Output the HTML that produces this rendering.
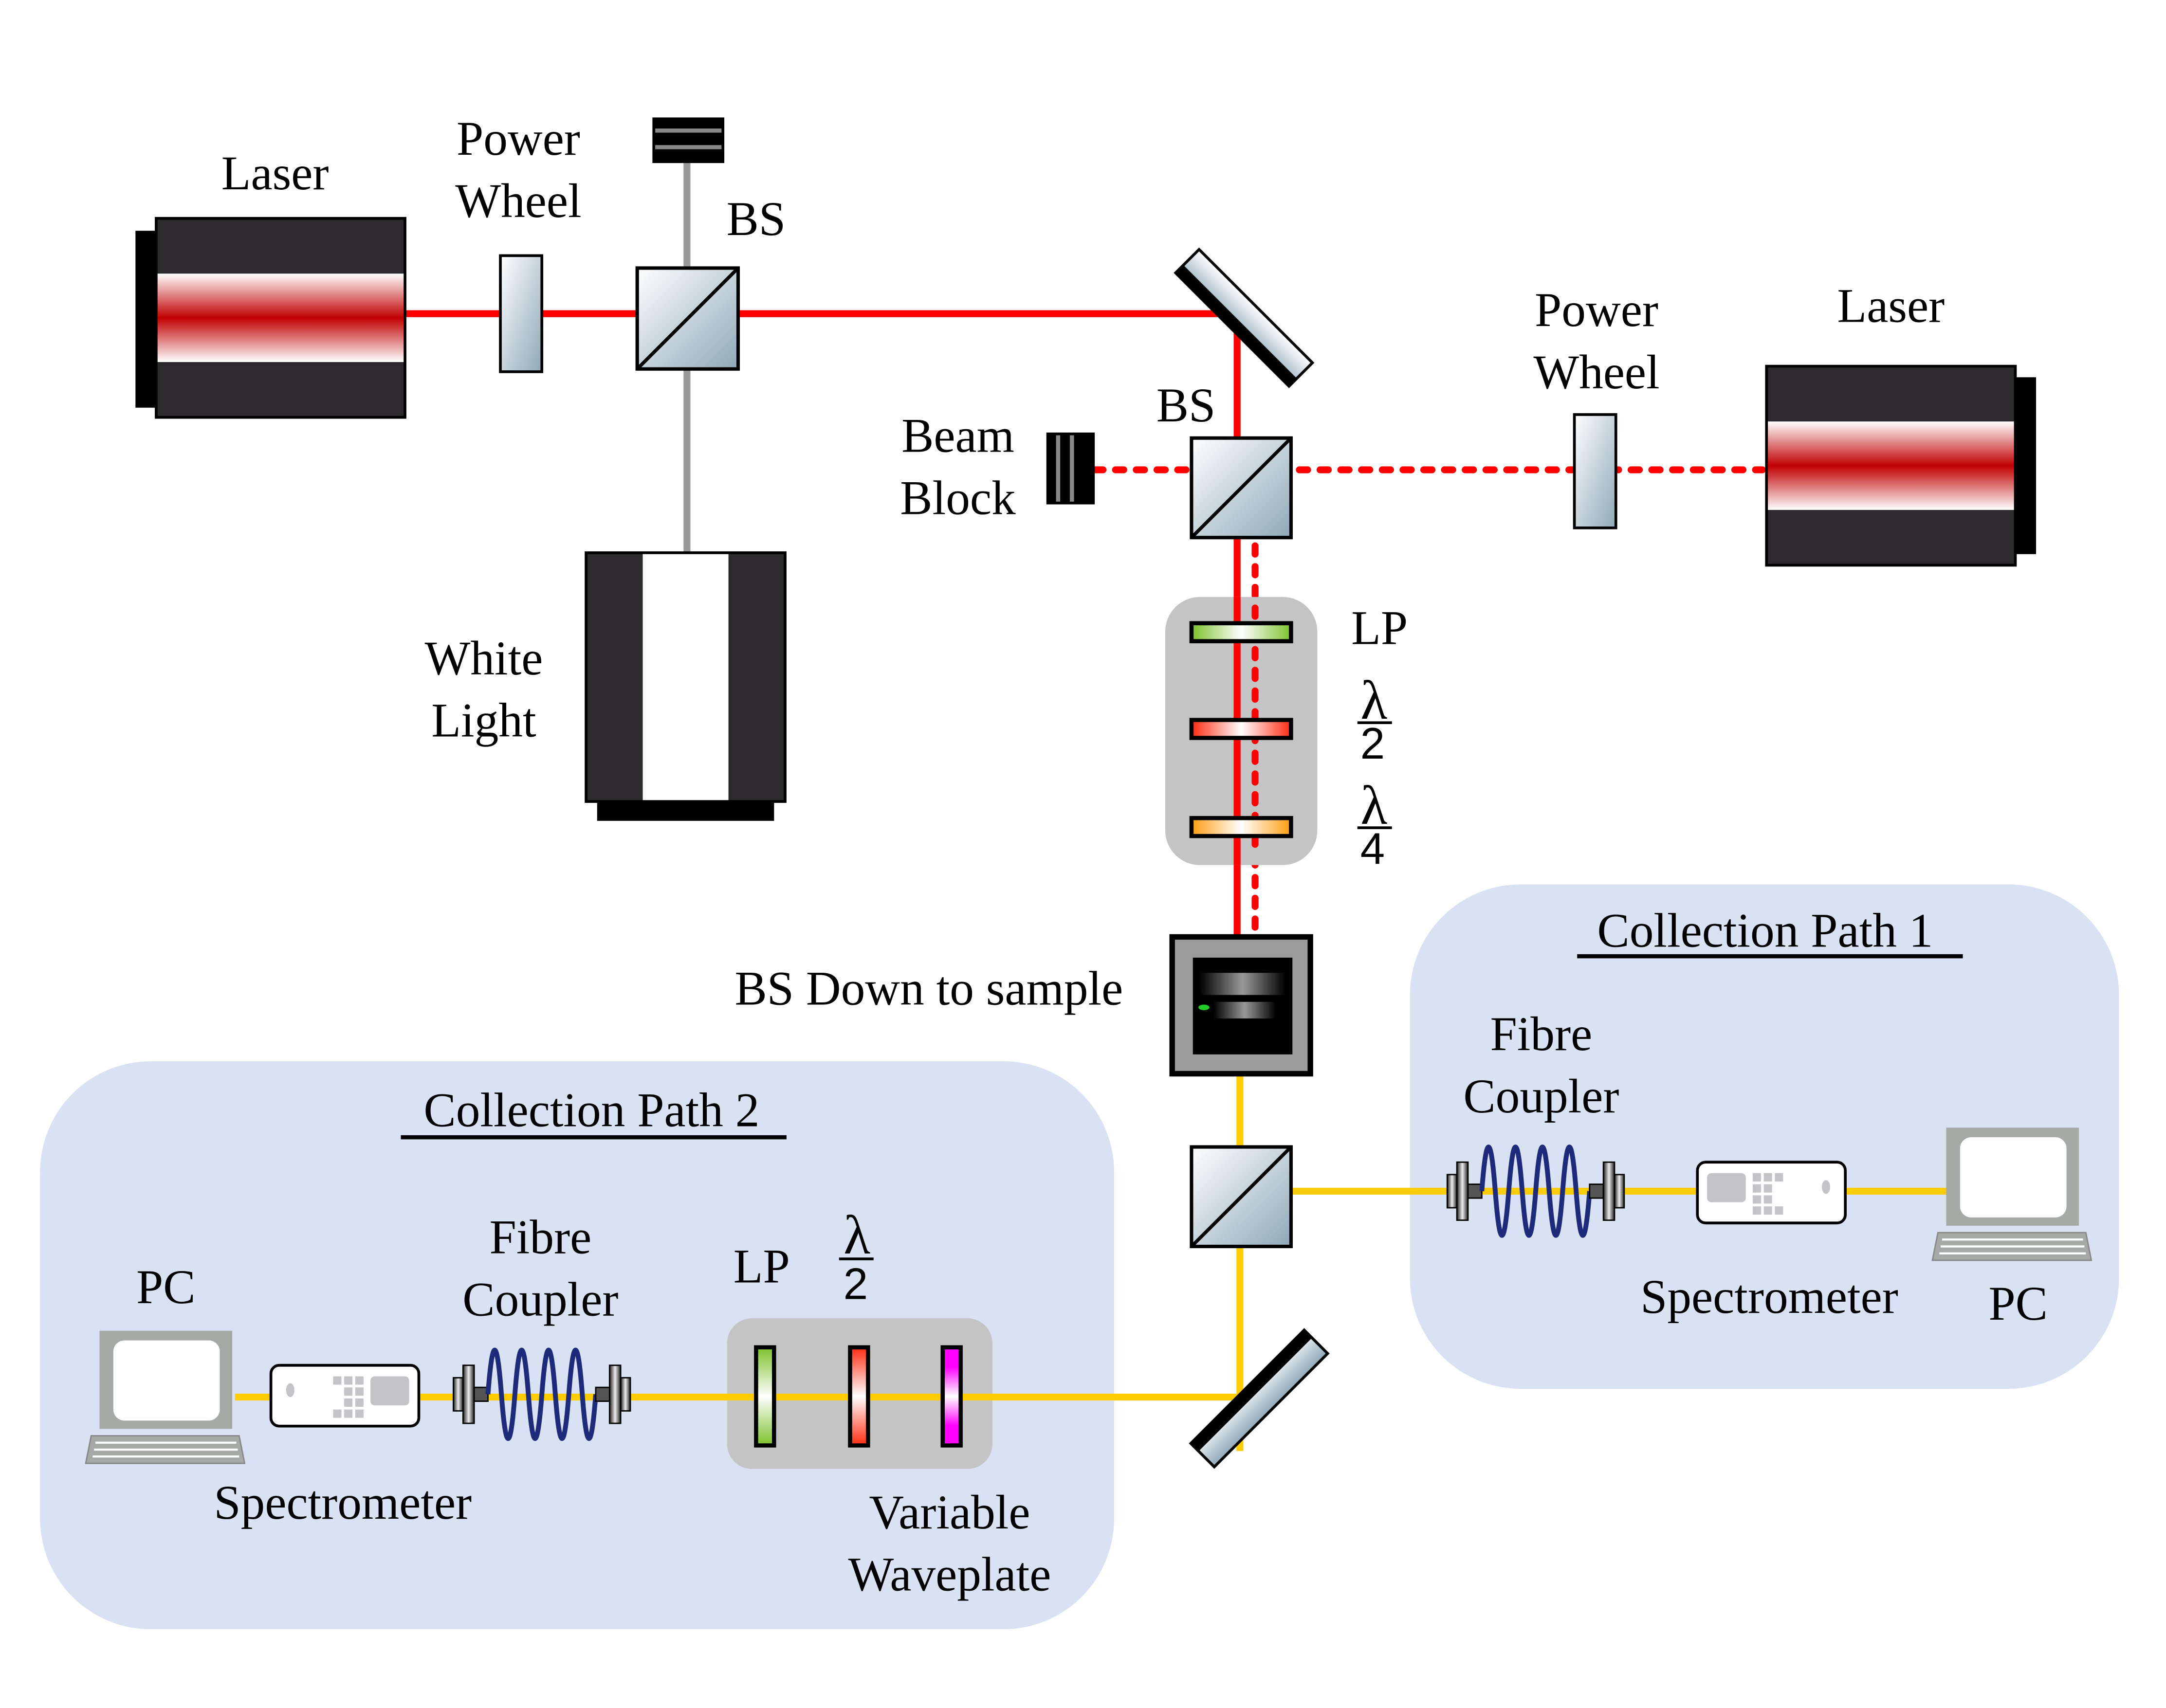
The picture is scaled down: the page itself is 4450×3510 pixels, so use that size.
<!DOCTYPE html>
<html><head><meta charset="utf-8"><style>html,body{margin:0;padding:0;background:#fff;overflow:hidden;width:4450px;height:3510px}svg{display:block}text{font-family:"Liberation Serif",serif;font-size:35px;fill:#000}</style></head>
<body>
<svg width="4450" height="3510" viewBox="0 0 1567 1236" preserveAspectRatio="none" xmlns="http://www.w3.org/2000/svg">
<defs>
<linearGradient id="laserV" x1="0" y1="0" x2="0" y2="1"><stop offset="0" stop-color="#fff"/><stop offset="0.5" stop-color="#c00000"/><stop offset="1" stop-color="#fff"/></linearGradient>
<linearGradient id="pw" x1="0" y1="0" x2="1" y2="1"><stop offset="0" stop-color="#fff"/><stop offset="1" stop-color="#8fa8b8"/></linearGradient>
<linearGradient id="grnH" x1="0" x2="1"><stop offset="0" stop-color="#7dc12b"/><stop offset="0.5" stop-color="#fff"/><stop offset="1" stop-color="#7dc12b"/></linearGradient>
<linearGradient id="redH" x1="0" x2="1"><stop offset="0" stop-color="#ff2a10"/><stop offset="0.5" stop-color="#fff"/><stop offset="1" stop-color="#ff2a10"/></linearGradient>
<linearGradient id="orH" x1="0" x2="1"><stop offset="0" stop-color="#ff9d10"/><stop offset="0.5" stop-color="#fff"/><stop offset="1" stop-color="#ff9d10"/></linearGradient>
<linearGradient id="grnV" x1="0" y1="0" x2="0" y2="1"><stop offset="0" stop-color="#7dc12b"/><stop offset="0.5" stop-color="#fff"/><stop offset="1" stop-color="#7dc12b"/></linearGradient>
<linearGradient id="redV" x1="0" y1="0" x2="0" y2="1"><stop offset="0" stop-color="#ff2a10"/><stop offset="0.5" stop-color="#fff"/><stop offset="1" stop-color="#ff2a10"/></linearGradient>
<linearGradient id="magV" x1="0" y1="0" x2="0" y2="1"><stop offset="0" stop-color="#f0f"/><stop offset="0.2" stop-color="#f0f"/><stop offset="0.5" stop-color="#fff"/><stop offset="0.8" stop-color="#f0f"/><stop offset="1" stop-color="#f0f"/></linearGradient>
<linearGradient id="shine" x1="0" x2="1"><stop offset="0" stop-color="#000"/><stop offset="0.5" stop-color="#999"/><stop offset="1" stop-color="#000"/></linearGradient>
<linearGradient id="mir" x1="0" y1="0" x2="0" y2="1"><stop offset="0" stop-color="#fff"/><stop offset="1" stop-color="#8fa8b8"/></linearGradient>
<linearGradient id="cyl" x1="0" x2="1"><stop offset="0" stop-color="#222"/><stop offset="0.5" stop-color="#eee"/><stop offset="1" stop-color="#222"/></linearGradient>
</defs>

<rect x="1020" y="640" width="513" height="365" rx="80" fill="#d8e2f3"/>
<rect x="29" y="768" width="777" height="411" rx="80" fill="#d8e2f3"/>

<line x1="293" y1="227" x2="895" y2="227" stroke="#f00" stroke-width="5"/>
<line x1="895" y1="227" x2="895" y2="680" stroke="#f00" stroke-width="5"/>
<line x1="497" y1="110" x2="497" y2="400" stroke="#999" stroke-width="5"/>
<line x1="792" y1="340" x2="862" y2="340" stroke="#f00" stroke-width="5" stroke-dasharray="6 9" stroke-linecap="round"/>
<line x1="940" y1="340" x2="1275" y2="340" stroke="#f00" stroke-width="5" stroke-dasharray="6 9" stroke-linecap="round"/>
<line x1="908" y1="395" x2="908" y2="675" stroke="#f00" stroke-width="5" stroke-dasharray="6 9" stroke-linecap="round"/>
<line x1="897" y1="777" x2="897" y2="1050" stroke="#fc0" stroke-width="5"/>
<line x1="934" y1="862" x2="1410" y2="862" stroke="#fc0" stroke-width="5"/>
<line x1="170" y1="1011" x2="905" y2="1011" stroke="#fc0" stroke-width="5"/>

<rect x="98" y="167" width="16" height="128" fill="#000"/>
<rect x="113" y="158" width="180" height="144" fill="#2d2a2e" stroke="#000" stroke-width="2"/>
<rect x="114" y="198" width="178" height="64" fill="url(#laserV)"/>
<rect x="1457" y="273" width="16" height="128" fill="#000"/>
<rect x="1278" y="265" width="180" height="144" fill="#2d2a2e" stroke="#000" stroke-width="2"/>
<rect x="1279" y="305" width="178" height="64" fill="url(#laserV)"/>

<rect x="362" y="185" width="30" height="84" fill="url(#pw)" stroke="#000" stroke-width="2"/>
<rect x="1139" y="300" width="30" height="82" fill="url(#pw)" stroke="#000" stroke-width="2"/>

<g stroke="#000" stroke-width="2.5">
<rect x="461" y="194" width="73" height="73" fill="url(#pw)"/><line x1="461" y1="267" x2="534" y2="194"/>
<rect x="862" y="317" width="72" height="72" fill="url(#pw)"/><line x1="862" y1="389" x2="934" y2="317"/>
<rect x="862" y="830" width="72" height="72" fill="url(#pw)"/><line x1="862" y1="902" x2="934" y2="830"/>
</g>

<rect x="472" y="85" width="52" height="33" fill="#000"/>
<rect x="474" y="93" width="48" height="3" fill="#888"/><rect x="474" y="105" width="48" height="3" fill="#888"/>
<rect x="757" y="313" width="35" height="52" fill="#000"/>
<rect x="764" y="315" width="3" height="48" fill="#888"/><rect x="774" y="315" width="3" height="48" fill="#888"/>

<rect x="424" y="400" width="144" height="180" fill="#2d2a2e" stroke="#000" stroke-width="2"/>
<rect x="465" y="401" width="62" height="178" fill="#fff"/>
<rect x="432" y="580" width="128" height="14" fill="#000"/>

<g transform="translate(900,230) rotate(45)"><rect x="-58" y="-12" width="116" height="24" fill="url(#mir)" stroke="#000" stroke-width="2"/><rect x="-58" y="4" width="116" height="8" fill="#000"/></g>
<g transform="translate(911,1012) rotate(-45)"><rect x="-58" y="-12" width="116" height="24" fill="url(#mir)" stroke="#000" stroke-width="2"/><rect x="-58" y="-12" width="116" height="8" fill="#000"/></g>

<rect x="843" y="432" width="110" height="194" rx="25" fill="#c4c4c4"/>
<line x1="895" y1="432" x2="895" y2="626" stroke="#f00" stroke-width="5"/>
<line x1="908" y1="440" x2="908" y2="620" stroke="#f00" stroke-width="5" stroke-dasharray="6 9" stroke-linecap="round"/>
<g stroke="#000" stroke-width="3">
<rect x="862" y="451" width="72" height="13" fill="url(#grnH)"/>
<rect x="862" y="521" width="72" height="13" fill="url(#redH)"/>
<rect x="862" y="592" width="72" height="13" fill="url(#orH)"/>
</g>

<rect x="848" y="678" width="100" height="99" fill="#9b9b9b" stroke="#000" stroke-width="4"/>
<rect x="863" y="693" width="72" height="70" fill="#000"/>
<rect x="868" y="704" width="62" height="16" fill="url(#shine)"/>
<rect x="878" y="725" width="45" height="12" fill="url(#shine)"/>
<ellipse cx="871" cy="729" rx="4" ry="2" fill="#2c2"/>

<rect x="526" y="954" width="192" height="109" rx="18" fill="#c4c4c4"/>
<line x1="526" y1="1011" x2="718" y2="1011" stroke="#fc0" stroke-width="5"/>
<g stroke="#000" stroke-width="3">
<rect x="547" y="975" width="13" height="71" fill="url(#grnV)"/>
<rect x="615" y="975" width="13" height="71" fill="url(#redV)"/>
<rect x="682" y="975" width="13" height="71" fill="url(#magV)"/>
</g>

<g id="fc1">
<rect x="1047" y="850" width="7" height="24" fill="url(#cyl)" stroke="#000"/>
<rect x="1054" y="841" width="8" height="42" fill="url(#cyl)" stroke="#000"/>
<rect x="1062" y="857" width="10" height="10" fill="#555" stroke="#000"/>
<path d="M1072 862 q4.9 -64 9.75 0 t9.75 0 t9.75 0 t9.75 0 t9.75 0 t9.75 0 t9.75 0 t9.75 0" fill="none" stroke="#1e2a7a" stroke-width="3.5"/>
<rect x="1150" y="857" width="10" height="10" fill="#555" stroke="#000"/>
<rect x="1160" y="841" width="8" height="42" fill="url(#cyl)" stroke="#000"/>
<rect x="1168" y="850" width="7" height="24" fill="url(#cyl)" stroke="#000"/>
</g>
<use href="#fc1" transform="translate(-719,147)"/>

<g id="sp1">
<rect x="1228" y="841" width="107" height="44" rx="6" fill="#fff" stroke="#000" stroke-width="2"/>
<rect x="1235" y="849" width="28" height="21" rx="3" fill="#c4c4c8"/>
<g fill="#c4c4c8"><rect x="1268" y="849" width="6" height="6"/><rect x="1276" y="849" width="6" height="6"/><rect x="1284" y="849" width="6" height="6"/><rect x="1268" y="857" width="6" height="6"/><rect x="1276" y="857" width="6" height="6"/><rect x="1268" y="865" width="6" height="6"/><rect x="1276" y="865" width="6" height="6"/><rect x="1268" y="873" width="6" height="6"/><rect x="1276" y="873" width="6" height="6"/><rect x="1284" y="873" width="6" height="6"/><ellipse cx="1321" cy="859" rx="3" ry="5"/></g>
</g>
<use href="#sp1" transform="translate(1531,147) scale(-1,1)"/>

<g id="pc1">
<rect x="1408" y="816" width="96" height="71" fill="#a6aaa6"/>
<rect x="1418" y="823" width="77" height="58" rx="8" fill="#fff"/>
<path d="M1402 892 L1509 892 L1513 912 L1398 912 Z" fill="#a6aaa6" stroke="#888"/>
<g stroke="#fff" stroke-width="1.5"><line x1="1405" y1="897" x2="1507" y2="897"/><line x1="1404" y1="902" x2="1508" y2="902"/><line x1="1403" y1="907" x2="1509" y2="907"/></g>
</g>
<use href="#pc1" transform="translate(-1336,147)"/>

<line x1="1141" y1="692" x2="1420" y2="692" stroke="#000" stroke-width="3"/>
<line x1="290" y1="823" x2="569" y2="823" stroke="#000" stroke-width="3"/>

<g text-anchor="middle">
<text x="199" y="137">Laser</text>
<text x="375" y="112">Power</text><text x="375" y="157">Wheel</text>
<text x="547" y="170">BS</text>
<text x="693" y="327">Beam</text><text x="693" y="372">Block</text>
<text x="858" y="305">BS</text>
<text x="1155" y="236">Power</text><text x="1155" y="281">Wheel</text>
<text x="1368" y="233">Laser</text>
<text x="350" y="488">White</text><text x="350" y="533">Light</text>
<text x="672" y="727">BS Down to sample</text>
<text x="1277" y="685">Collection Path 1</text>
<text x="428" y="815">Collection Path 2</text>
<text x="1115" y="760">Fibre</text><text x="1115" y="805">Coupler</text>
<text x="1280" y="950">Spectrometer</text>
<text x="1460" y="955">PC</text>
<text x="120" y="943">PC</text>
<text x="391" y="907">Fibre</text><text x="391" y="952">Coupler</text>
<text x="551" y="928">LP</text>
<text x="248" y="1099">Spectrometer</text>
<text x="687" y="1106">Variable</text><text x="687" y="1151">Waveplate</text>
<text x="998" y="466">LP</text>
<text x="994" y="520" style="font-size:40px">λ</text><text x="993" y="549" style="font-family:'Liberation Sans',sans-serif;font-size:32px">2</text>
<text x="994" y="596" style="font-size:40px">λ</text><text x="993" y="625" style="font-family:'Liberation Sans',sans-serif;font-size:32px">4</text>
<text x="620" y="907" style="font-size:40px">λ</text><text x="619" y="940" style="font-family:'Liberation Sans',sans-serif;font-size:32px">2</text>
</g>
<g stroke="#000" stroke-width="2"><line x1="982" y1="523" x2="1007" y2="523"/><line x1="982" y1="599" x2="1007" y2="599"/><line x1="607" y1="911" x2="632" y2="911"/></g>
</svg>
</body></html>
